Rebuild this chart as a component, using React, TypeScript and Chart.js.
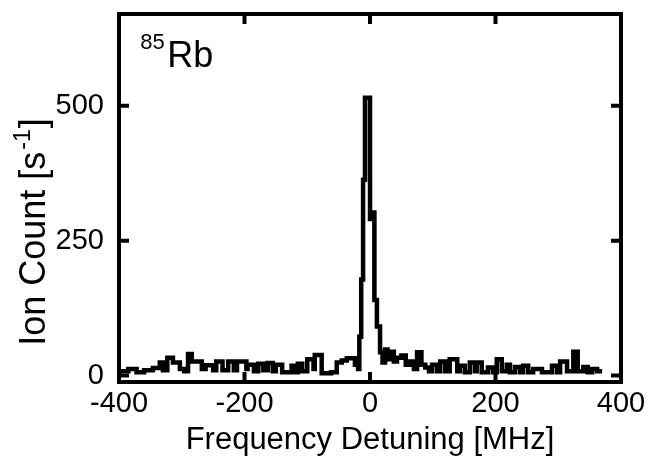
import React, { useEffect, useRef } from "react";
import { Chart, registerables } from "chart.js";

Chart.register(...registerables);

// Left edges of the counting bins (MHz) and ion count in each bin (s^-1)
const freqMHz = [
  -398, -385, -372, -360, -346, -335, -330, -323, -314, -303, -296, -290, -284, -268, -262, -250,
  -245, -235, -226, -217, -212, -197, -195, -185, -178, -170, -163, -155, -150, -140, -125, -120,
  -115, -108, -100, -90, -88, -77, -62, -53, -45, -37, -24, -19, -17, -14, -11, -8,
  0, 3, 7, 11, 16, 20, 24, 28, 32, 38, 43, 50, 57, 64, 70, 75,
  82, 88, 94, 99, 107, 112, 120, 127, 139, 143, 151, 159, 167, 170, 178, 188,
  196, 202, 210, 218, 223, 231, 239, 244, 252, 260, 274, 290, 298, 303, 314, 324,
  331, 340, 347, 354, 362, 370,
];
const ionCount = [
  8, 12, 6, 10, 14, 24, 10, 33, 24, 12, 8, 40, 26, 12, 19, 10,
  26, 10, 26, 10, 26, 12, 20, 8, 22, 10, 23, 8, 20, 6, 18, 6,
  22, 8, 30, 12, 38, 4, 6, 24, 28, 32, 20, 12, 72, 178, 363, 515,
  290, 302, 140, 91, 43, 24, 48, 30, 44, 26, 33, 37, 20, 26, 12, 43,
  20, 15, 8, 20, 8, 26, 8, 30, 8, 18, 6, 24, 8, 24, 6, 15,
  6, 30, 8, 20, 6, 16, 6, 18, 6, 12, 6, 18, 6, 26, 8, 44,
  8, 16, 6, 12, 8, 8,
];

const xTicks = [-400, -200, 0, 200, 400];
const yTicks = [0, 250, 500];
const xTitle = "Frequency Detuning [MHz]";
const yTitleMain = "Ion Count [s";
const yTitleSup = "-1";
const yTitleEnd = "]";
const isotopeMass = "85";
const isotopeSymbol = "Rb";

const FONT = "'Liberation Sans', Arial, Helvetica, sans-serif";

const framePlugin = {
  id: "frameAndTicks",
  afterDatasetsDraw(chart: any) {
    const { ctx, chartArea: a, scales } = chart;
    const xs = scales.x;
    const ys = scales.y;
    ctx.save();
    ctx.strokeStyle = "#000";
    ctx.lineWidth = 4;
    ctx.lineCap = "butt";
    ctx.strokeRect(a.left, a.top, a.right - a.left, a.bottom - a.top);
    const tl = 10;
    ctx.lineWidth = 4;
    ctx.beginPath();
    for (const v of xTicks) {
      const px = xs.getPixelForValue(v);
      ctx.moveTo(px, a.top);
      ctx.lineTo(px, a.top + tl);
      ctx.moveTo(px, a.bottom);
      ctx.lineTo(px, a.bottom - tl);
    }
    for (const v of yTicks) {
      const py = ys.getPixelForValue(v);
      ctx.moveTo(a.left, py);
      ctx.lineTo(a.left + tl, py);
      ctx.moveTo(a.right, py);
      ctx.lineTo(a.right - tl, py);
    }
    ctx.stroke();

    // isotope label
    ctx.fillStyle = "#000";
    ctx.textBaseline = "alphabetic";
    ctx.textAlign = "left";
    ctx.font = `22px ${FONT}`;
    ctx.fillText(isotopeMass, xs.getPixelForValue(-366), ys.getPixelForValue(606));
    ctx.font = `36px ${FONT}`;
    ctx.fillText(isotopeSymbol, xs.getPixelForValue(-323), ys.getPixelForValue(572));

    // y-axis title with superscript, rotated
    ctx.translate(45, ys.getPixelForValue(55));
    ctx.rotate(-Math.PI / 2);
    ctx.font = `36px ${FONT}`;
    ctx.fillText(yTitleMain, 0, 0);
    const w1 = ctx.measureText(yTitleMain).width;
    ctx.font = `23px ${FONT}`;
    ctx.fillText(yTitleSup, w1 + 2, -15);
    const w2 = ctx.measureText(yTitleSup).width;
    ctx.font = `36px ${FONT}`;
    ctx.fillText(yTitleEnd, w1 + w2 + 3, 0);
    ctx.restore();
  },
};

export default function App() {
  const canvasRef = useRef<HTMLCanvasElement | null>(null);

  useEffect(() => {
    if (!canvasRef.current) return;
    const points = freqMHz.map((f, i) => ({ x: f, y: ionCount[i] }));
    const chart = new Chart(canvasRef.current, {
      type: "line",
      data: {
        datasets: [
          {
            data: points,
            borderColor: "#000",
            borderWidth: 4.5,
            pointRadius: 0,
            stepped: "before",
            fill: false,
            tension: 0,
          },
        ],
      },
      options: {
        animation: false,
        responsive: false,
        layout: { padding: { left: 0, right: 42, top: 14, bottom: 0 } },
        plugins: { legend: { display: false }, tooltip: { enabled: false } },
        scales: {
          x: {
            type: "linear",
            min: -400,
            max: 400,
            afterBuildTicks: (s: any) => {
              s.ticks = xTicks.map((value) => ({ value }));
            },
            afterFit: (s: any) => {
              s.height = 79;
              s.paddingLeft = 0;
              s.paddingRight = 0;
              s.paddingTop = 0;
              s.paddingBottom = 0;
            },
            grid: { display: false, drawTicks: false },
            border: { display: false },
            ticks: {
              color: "#000",
              font: { family: FONT, size: 29 },
              padding: 5,
              maxRotation: 0,
              autoSkip: false,
            },
            title: {
              display: true,
              text: xTitle,
              color: "#000",
              font: { family: FONT, size: 31 },
              padding: { top: 0, bottom: 2 },
            },
          },
          y: {
            type: "linear",
            min: -12,
            max: 670,
            afterBuildTicks: (s: any) => {
              s.ticks = yTicks.map((value) => ({ value }));
            },
            afterFit: (s: any) => {
              s.width = 119;
              s.paddingLeft = 0;
              s.paddingRight = 0;
              s.paddingTop = 0;
              s.paddingBottom = 0;
            },
            grid: { display: false, drawTicks: false },
            border: { display: false },
            ticks: {
              color: "#000",
              font: { family: FONT, size: 29 },
              padding: 15,
              autoSkip: false,
            },
            title: { display: false },
          },
        },
      },
      plugins: [framePlugin],
    });
    return () => chart.destroy();
  }, []);

  return (
    <div style={{ position: "fixed", left: 0, top: 0, width: 663, height: 461, background: "#fff" }}>
      <canvas ref={canvasRef} width={663} height={461} />
    </div>
  );
}
